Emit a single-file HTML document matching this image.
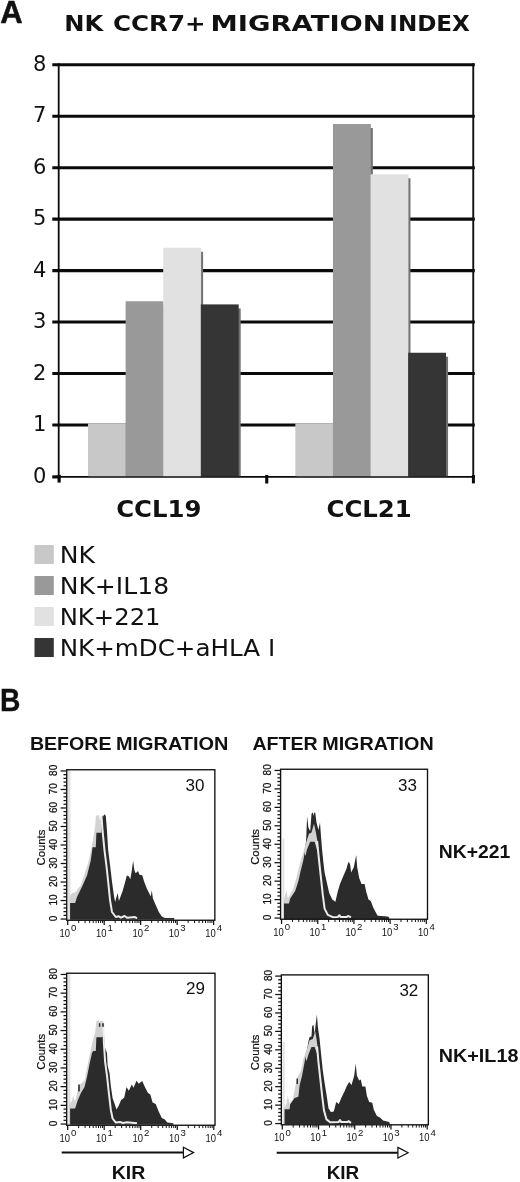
<!DOCTYPE html>
<html lang="en"><head><meta charset="utf-8"><title>NK CCR7+ migration index</title>
<style>
html,body{margin:0;padding:0;background:#fff;}
body{width:520px;height:1182px;overflow:hidden;}
svg{display:block;}
.ab{font-family:"Liberation Sans",sans-serif;font-weight:bold;}
.ar{font-family:"Liberation Sans",sans-serif;}
.vb{font-family:"DejaVu Sans","Liberation Sans",sans-serif;font-weight:bold;}
.vr{font-family:"DejaVu Sans","Liberation Sans",sans-serif;}
</style></head><body>
<svg width="520" height="1182" viewBox="0 0 520 1182">
<rect width="520" height="1182" fill="#fff"/>

<text class="ab" x="0.3" y="22.7" font-size="31" fill="#111" stroke="#111" stroke-width="0.5">A</text>
<text class="vb" x="64.2" y="30.8" font-size="22" fill="#111" textLength="39" lengthAdjust="spacingAndGlyphs">NK</text>
<text class="vb" x="113" y="30.8" font-size="22" fill="#111" textLength="92.6" lengthAdjust="spacingAndGlyphs">CCR7+</text>
<text class="vb" x="210.6" y="30.8" font-size="22" fill="#111" textLength="175.2" lengthAdjust="spacingAndGlyphs">MIGRATION</text>
<text class="vb" x="389.3" y="30.8" font-size="22" fill="#111" textLength="80.6" lengthAdjust="spacingAndGlyphs">INDEX</text>
<line x1="52.3" x2="60.5" y1="476.9" y2="476.9" stroke="#0a0a0a" stroke-width="3.2"/>
<line x1="58" x2="475" y1="476.9" y2="476.9" stroke="#0a0a0a" stroke-width="1.9"/>
<text class="vr" x="46.3" y="482.55" font-size="21" text-anchor="end" fill="#111">0</text>
<line x1="52.3" x2="474.8" y1="424.95" y2="424.95" stroke="#0a0a0a" stroke-width="3.1"/>
<text class="vr" x="46.3" y="431.10" font-size="21" text-anchor="end" fill="#111">1</text>
<line x1="52.3" x2="474.8" y1="373.50" y2="373.50" stroke="#0a0a0a" stroke-width="3.1"/>
<text class="vr" x="46.3" y="379.65" font-size="21" text-anchor="end" fill="#111">2</text>
<line x1="52.3" x2="474.8" y1="322.05" y2="322.05" stroke="#0a0a0a" stroke-width="3.1"/>
<text class="vr" x="46.3" y="328.20" font-size="21" text-anchor="end" fill="#111">3</text>
<line x1="52.3" x2="474.8" y1="270.60" y2="270.60" stroke="#0a0a0a" stroke-width="3.1"/>
<text class="vr" x="46.3" y="276.75" font-size="21" text-anchor="end" fill="#111">4</text>
<line x1="52.3" x2="474.8" y1="219.15" y2="219.15" stroke="#0a0a0a" stroke-width="3.1"/>
<text class="vr" x="46.3" y="225.30" font-size="21" text-anchor="end" fill="#111">5</text>
<line x1="52.3" x2="474.8" y1="167.70" y2="167.70" stroke="#0a0a0a" stroke-width="3.1"/>
<text class="vr" x="46.3" y="173.85" font-size="21" text-anchor="end" fill="#111">6</text>
<line x1="52.3" x2="474.8" y1="116.25" y2="116.25" stroke="#0a0a0a" stroke-width="3.1"/>
<text class="vr" x="46.3" y="122.40" font-size="21" text-anchor="end" fill="#111">7</text>
<line x1="52.3" x2="474.8" y1="64.80" y2="64.80" stroke="#0a0a0a" stroke-width="3.1"/>
<text class="vr" x="46.3" y="70.95" font-size="21" text-anchor="end" fill="#111">8</text>
<line x1="58.7" x2="58.7" y1="63.2" y2="476" stroke="#0a0a0a" stroke-width="1.8"/>
<line x1="473.25" x2="473.25" y1="63.2" y2="476" stroke="#111" stroke-width="1.9"/>
<rect x="57.5" y="474.8" width="3.2" height="7.8" fill="#0a0a0a"/>
<rect x="265.2" y="475" width="3.1" height="8.5" fill="#0a0a0a"/>
<rect x="471.9" y="475" width="3" height="8.4" fill="#0a0a0a"/>
<rect x="90.30" y="427.30" width="37.60" height="48.90" fill="#727272"/>
<rect x="127.90" y="305.25" width="37.60" height="170.95" fill="#727272"/>
<rect x="165.50" y="251.75" width="37.60" height="224.45" fill="#727272"/>
<rect x="203.10" y="308.40" width="37.60" height="167.80" fill="#727272"/>
<rect x="88.00" y="423.30" width="37.90" height="52.90" fill="#c8c8c8"/>
<rect x="125.60" y="301.25" width="37.90" height="174.95" fill="#999999"/>
<rect x="163.20" y="247.75" width="37.90" height="228.45" fill="#e1e1e1"/>
<rect x="200.80" y="304.40" width="37.90" height="171.80" fill="#353535"/>
<rect x="297.65" y="427.30" width="37.60" height="48.90" fill="#727272"/>
<rect x="335.25" y="128.00" width="37.60" height="348.20" fill="#727272"/>
<rect x="372.85" y="178.25" width="37.60" height="297.95" fill="#727272"/>
<rect x="410.45" y="356.75" width="37.60" height="119.45" fill="#727272"/>
<rect x="295.35" y="423.30" width="37.90" height="52.90" fill="#c8c8c8"/>
<rect x="332.95" y="124.00" width="37.90" height="352.20" fill="#999999"/>
<rect x="370.55" y="174.25" width="37.90" height="301.95" fill="#e1e1e1"/>
<rect x="408.15" y="352.75" width="37.90" height="123.45" fill="#353535"/>
<text class="vb" x="116.2" y="517" font-size="23.3" fill="#111" textLength="85.3" lengthAdjust="spacingAndGlyphs">CCL19</text>
<text class="vb" x="326.5" y="517" font-size="23.3" fill="#111" textLength="85.3" lengthAdjust="spacingAndGlyphs">CCL21</text>
<rect x="34.5" y="545" width="19.3" height="19" fill="#c8c8c8"/>
<text class="vr" x="59.7" y="563.3" font-size="23.3" fill="#111" textLength="35.2" lengthAdjust="spacingAndGlyphs">NK</text>
<rect x="34.5" y="576" width="19.3" height="19" fill="#999999"/>
<text class="vr" x="59.7" y="594.3" font-size="23.3" fill="#111" textLength="109.4" lengthAdjust="spacingAndGlyphs">NK+IL18</text>
<rect x="34.5" y="607" width="19.3" height="19" fill="#e1e1e1"/>
<text class="vr" x="59.7" y="625.3" font-size="23.3" fill="#111" textLength="100.9" lengthAdjust="spacingAndGlyphs">NK+221</text>
<rect x="34.5" y="638" width="19.3" height="19" fill="#353535"/>
<text class="vr" x="59.7" y="656.3" font-size="23.3" fill="#111" textLength="215.5" lengthAdjust="spacingAndGlyphs">NK+mDC+aHLA I</text>
<text class="ab" x="0.1" y="710.8" font-size="30.5" fill="#111" stroke="#111" stroke-width="0.3" textLength="20.4" lengthAdjust="spacingAndGlyphs">B</text>
<text class="ab" x="29.9" y="749.7" font-size="19" fill="#111" textLength="81.6" lengthAdjust="spacingAndGlyphs">BEFORE</text>
<text class="ab" x="115.9" y="749.7" font-size="19" fill="#111" textLength="112.6" lengthAdjust="spacingAndGlyphs">MIGRATION</text>
<text class="ab" x="252.4" y="749.7" font-size="19" fill="#111" textLength="65.3" lengthAdjust="spacingAndGlyphs">AFTER</text>
<text class="ab" x="322.2" y="749.7" font-size="19" fill="#111" textLength="111.5" lengthAdjust="spacingAndGlyphs">MIGRATION</text>
<text class="ab" x="438.8" y="857.5" font-size="17.7" fill="#111" textLength="71.6" lengthAdjust="spacingAndGlyphs">NK+221</text>
<text class="ab" x="438.8" y="1061.5" font-size="17.7" fill="#111" textLength="79.6" lengthAdjust="spacingAndGlyphs">NK+IL18</text>
<rect x="68.0" y="770.2" width="2.4" height="150.0" fill="#e2e2e2"/>
<polygon points="69.5,919.7 69.5,897.1 72.0,893.1 75.0,892.6 80.7,885.5 88.2,862.9 92.8,841.3 95.3,825.2 95.8,815.7 99.0,815.3 100.0,821.1 101.2,816.1 103.2,815.7 104.5,850.3 106.4,865.4 108.2,881.8 110.1,900.6 112.0,912.0 115.8,917.0 137.0,918.2 137.0,919.7" fill="#d2d2d2"/>
<polygon points="70.1,919.7 70.1,903.1 75.1,903.1 77.0,896.9 82.0,886.8 87.0,875.5 90.8,860.4 92.6,847.2 95.8,847.2 96.4,832.7 101.4,832.7 102.0,815.7 103.2,816.6 104.2,814.3 105.8,815.7 107.0,831.2 108.2,850.3 110.1,865.4 112.0,881.8 113.9,895.6 115.1,901.9 117.6,893.1 118.9,901.1 122.6,891.0 125.7,880.1 126.8,875.5 128.8,876.3 130.3,879.3 131.8,870.8 133.1,860.8 134.5,870.8 135.7,873.2 138.0,871.1 139.5,874.7 142.2,875.2 144.2,881.7 146.5,887.8 148.8,892.5 150.8,896.4 151.8,890.2 152.9,898.6 155.7,904.9 158.8,911.9 161.8,916.5 164.9,918.0 174.2,918.0 174.2,919.7" fill="#2b2b2b"/>
<polyline points="101.5,816.1 102.6,831.2 104.5,850.3 106.4,865.4 108.2,881.8 110.1,900.6 112.0,912.0 115.8,917.0 118.8,916.3 121.0,917.7 124.5,916.0 127.0,917.7 135.0,917.0 137.0,918.3" fill="none" stroke="#ececec" stroke-width="2" stroke-linejoin="round"/>
<rect x="66.75" y="769.75" width="148.1" height="150.5" fill="none" stroke="#111" stroke-width="1.35"/>
<line x1="60.6" x2="66.75" y1="919.05" y2="919.05" stroke="#111" stroke-width="1.25"/>
<line x1="63.5" x2="66.75" y1="915.35" y2="915.35" stroke="#111" stroke-width="1.25"/>
<line x1="63.5" x2="66.75" y1="911.64" y2="911.64" stroke="#111" stroke-width="1.25"/>
<line x1="63.5" x2="66.75" y1="907.94" y2="907.94" stroke="#111" stroke-width="1.25"/>
<line x1="63.5" x2="66.75" y1="904.24" y2="904.24" stroke="#111" stroke-width="1.25"/>
<line x1="60.6" x2="66.75" y1="900.54" y2="900.54" stroke="#111" stroke-width="1.25"/>
<line x1="63.5" x2="66.75" y1="896.83" y2="896.83" stroke="#111" stroke-width="1.25"/>
<line x1="63.5" x2="66.75" y1="893.13" y2="893.13" stroke="#111" stroke-width="1.25"/>
<line x1="63.5" x2="66.75" y1="889.43" y2="889.43" stroke="#111" stroke-width="1.25"/>
<line x1="63.5" x2="66.75" y1="885.73" y2="885.73" stroke="#111" stroke-width="1.25"/>
<line x1="60.6" x2="66.75" y1="882.02" y2="882.02" stroke="#111" stroke-width="1.25"/>
<line x1="63.5" x2="66.75" y1="878.32" y2="878.32" stroke="#111" stroke-width="1.25"/>
<line x1="63.5" x2="66.75" y1="874.62" y2="874.62" stroke="#111" stroke-width="1.25"/>
<line x1="63.5" x2="66.75" y1="870.92" y2="870.92" stroke="#111" stroke-width="1.25"/>
<line x1="63.5" x2="66.75" y1="867.22" y2="867.22" stroke="#111" stroke-width="1.25"/>
<line x1="60.6" x2="66.75" y1="863.51" y2="863.51" stroke="#111" stroke-width="1.25"/>
<line x1="63.5" x2="66.75" y1="859.81" y2="859.81" stroke="#111" stroke-width="1.25"/>
<line x1="63.5" x2="66.75" y1="856.11" y2="856.11" stroke="#111" stroke-width="1.25"/>
<line x1="63.5" x2="66.75" y1="852.40" y2="852.40" stroke="#111" stroke-width="1.25"/>
<line x1="63.5" x2="66.75" y1="848.70" y2="848.70" stroke="#111" stroke-width="1.25"/>
<line x1="60.6" x2="66.75" y1="845.00" y2="845.00" stroke="#111" stroke-width="1.25"/>
<line x1="63.5" x2="66.75" y1="841.30" y2="841.30" stroke="#111" stroke-width="1.25"/>
<line x1="63.5" x2="66.75" y1="837.60" y2="837.60" stroke="#111" stroke-width="1.25"/>
<line x1="63.5" x2="66.75" y1="833.89" y2="833.89" stroke="#111" stroke-width="1.25"/>
<line x1="63.5" x2="66.75" y1="830.19" y2="830.19" stroke="#111" stroke-width="1.25"/>
<line x1="60.6" x2="66.75" y1="826.49" y2="826.49" stroke="#111" stroke-width="1.25"/>
<line x1="63.5" x2="66.75" y1="822.78" y2="822.78" stroke="#111" stroke-width="1.25"/>
<line x1="63.5" x2="66.75" y1="819.08" y2="819.08" stroke="#111" stroke-width="1.25"/>
<line x1="63.5" x2="66.75" y1="815.38" y2="815.38" stroke="#111" stroke-width="1.25"/>
<line x1="63.5" x2="66.75" y1="811.68" y2="811.68" stroke="#111" stroke-width="1.25"/>
<line x1="60.6" x2="66.75" y1="807.98" y2="807.98" stroke="#111" stroke-width="1.25"/>
<line x1="63.5" x2="66.75" y1="804.27" y2="804.27" stroke="#111" stroke-width="1.25"/>
<line x1="63.5" x2="66.75" y1="800.57" y2="800.57" stroke="#111" stroke-width="1.25"/>
<line x1="63.5" x2="66.75" y1="796.87" y2="796.87" stroke="#111" stroke-width="1.25"/>
<line x1="63.5" x2="66.75" y1="793.17" y2="793.17" stroke="#111" stroke-width="1.25"/>
<line x1="60.6" x2="66.75" y1="789.46" y2="789.46" stroke="#111" stroke-width="1.25"/>
<line x1="63.5" x2="66.75" y1="785.76" y2="785.76" stroke="#111" stroke-width="1.25"/>
<line x1="63.5" x2="66.75" y1="782.06" y2="782.06" stroke="#111" stroke-width="1.25"/>
<line x1="63.5" x2="66.75" y1="778.36" y2="778.36" stroke="#111" stroke-width="1.25"/>
<line x1="63.5" x2="66.75" y1="774.65" y2="774.65" stroke="#111" stroke-width="1.25"/>
<line x1="60.6" x2="66.75" y1="770.95" y2="770.95" stroke="#111" stroke-width="1.25"/>
<text class="ar" font-size="10" fill="#111" stroke="#111" stroke-width="0.25" text-anchor="middle" transform="translate(57.0,918.45) rotate(-90) scale(1,1.13)">0</text>
<text class="ar" font-size="10" fill="#111" stroke="#111" stroke-width="0.25" text-anchor="middle" transform="translate(57.0,899.94) rotate(-90) scale(1,1.13)">10</text>
<text class="ar" font-size="10" fill="#111" stroke="#111" stroke-width="0.25" text-anchor="middle" transform="translate(57.0,881.42) rotate(-90) scale(1,1.13)">20</text>
<text class="ar" font-size="10" fill="#111" stroke="#111" stroke-width="0.25" text-anchor="middle" transform="translate(57.0,862.91) rotate(-90) scale(1,1.13)">30</text>
<text class="ar" font-size="10" fill="#111" stroke="#111" stroke-width="0.25" text-anchor="middle" transform="translate(57.0,844.40) rotate(-90) scale(1,1.13)">40</text>
<text class="ar" font-size="10" fill="#111" stroke="#111" stroke-width="0.25" text-anchor="middle" transform="translate(57.0,825.89) rotate(-90) scale(1,1.13)">50</text>
<text class="ar" font-size="10" fill="#111" stroke="#111" stroke-width="0.25" text-anchor="middle" transform="translate(57.0,807.38) rotate(-90) scale(1,1.13)">60</text>
<text class="ar" font-size="10" fill="#111" stroke="#111" stroke-width="0.25" text-anchor="middle" transform="translate(57.0,788.86) rotate(-90) scale(1,1.13)">70</text>
<text class="ar" font-size="10" fill="#111" stroke="#111" stroke-width="0.25" text-anchor="middle" transform="translate(57.0,770.35) rotate(-90) scale(1,1.13)">80</text>
<text class="ar" font-size="11.3" fill="#111" text-anchor="middle" stroke="#111" stroke-width="0.2" transform="translate(44.8,847.6) rotate(-90)">Counts</text>
<line x1="67.70" x2="67.70" y1="920.25" y2="925.05" stroke="#111" stroke-width="1.25"/>
<text class="ar" font-size="11" fill="#111" x="59.4" y="936.9" textLength="10.5" lengthAdjust="spacingAndGlyphs">10</text>
<text class="ar" font-size="9.6" fill="#111" x="70.9" y="931.4">0</text>
<line x1="78.68" x2="78.68" y1="920.25" y2="923.05" stroke="#111" stroke-width="1"/>
<line x1="85.10" x2="85.10" y1="920.25" y2="923.05" stroke="#111" stroke-width="1"/>
<line x1="89.66" x2="89.66" y1="920.25" y2="923.05" stroke="#111" stroke-width="1"/>
<line x1="93.19" x2="93.19" y1="920.25" y2="923.05" stroke="#111" stroke-width="1"/>
<line x1="96.08" x2="96.08" y1="920.25" y2="923.05" stroke="#111" stroke-width="1"/>
<line x1="98.52" x2="98.52" y1="920.25" y2="923.05" stroke="#111" stroke-width="1"/>
<line x1="100.64" x2="100.64" y1="920.25" y2="923.05" stroke="#111" stroke-width="1"/>
<line x1="102.51" x2="102.51" y1="920.25" y2="923.05" stroke="#111" stroke-width="1"/>
<line x1="104.18" x2="104.18" y1="920.25" y2="925.05" stroke="#111" stroke-width="1.25"/>
<text class="ar" font-size="11" fill="#111" x="95.9" y="936.9" textLength="10.5" lengthAdjust="spacingAndGlyphs">10</text>
<text class="ar" font-size="9.6" fill="#111" x="107.4" y="931.4">1</text>
<line x1="115.16" x2="115.16" y1="920.25" y2="923.05" stroke="#111" stroke-width="1"/>
<line x1="121.58" x2="121.58" y1="920.25" y2="923.05" stroke="#111" stroke-width="1"/>
<line x1="126.14" x2="126.14" y1="920.25" y2="923.05" stroke="#111" stroke-width="1"/>
<line x1="129.67" x2="129.67" y1="920.25" y2="923.05" stroke="#111" stroke-width="1"/>
<line x1="132.56" x2="132.56" y1="920.25" y2="923.05" stroke="#111" stroke-width="1"/>
<line x1="135.00" x2="135.00" y1="920.25" y2="923.05" stroke="#111" stroke-width="1"/>
<line x1="137.12" x2="137.12" y1="920.25" y2="923.05" stroke="#111" stroke-width="1"/>
<line x1="138.98" x2="138.98" y1="920.25" y2="923.05" stroke="#111" stroke-width="1"/>
<line x1="140.65" x2="140.65" y1="920.25" y2="925.05" stroke="#111" stroke-width="1.25"/>
<text class="ar" font-size="11" fill="#111" x="132.4" y="936.9" textLength="10.5" lengthAdjust="spacingAndGlyphs">10</text>
<text class="ar" font-size="9.6" fill="#111" x="143.9" y="931.4">2</text>
<line x1="151.63" x2="151.63" y1="920.25" y2="923.05" stroke="#111" stroke-width="1"/>
<line x1="158.05" x2="158.05" y1="920.25" y2="923.05" stroke="#111" stroke-width="1"/>
<line x1="162.61" x2="162.61" y1="920.25" y2="923.05" stroke="#111" stroke-width="1"/>
<line x1="166.14" x2="166.14" y1="920.25" y2="923.05" stroke="#111" stroke-width="1"/>
<line x1="169.03" x2="169.03" y1="920.25" y2="923.05" stroke="#111" stroke-width="1"/>
<line x1="171.47" x2="171.47" y1="920.25" y2="923.05" stroke="#111" stroke-width="1"/>
<line x1="173.59" x2="173.59" y1="920.25" y2="923.05" stroke="#111" stroke-width="1"/>
<line x1="175.46" x2="175.46" y1="920.25" y2="923.05" stroke="#111" stroke-width="1"/>
<line x1="177.13" x2="177.13" y1="920.25" y2="925.05" stroke="#111" stroke-width="1.25"/>
<text class="ar" font-size="11" fill="#111" x="168.8" y="936.9" textLength="10.5" lengthAdjust="spacingAndGlyphs">10</text>
<text class="ar" font-size="9.6" fill="#111" x="180.3" y="931.4">3</text>
<line x1="188.11" x2="188.11" y1="920.25" y2="923.05" stroke="#111" stroke-width="1"/>
<line x1="194.53" x2="194.53" y1="920.25" y2="923.05" stroke="#111" stroke-width="1"/>
<line x1="199.09" x2="199.09" y1="920.25" y2="923.05" stroke="#111" stroke-width="1"/>
<line x1="202.62" x2="202.62" y1="920.25" y2="923.05" stroke="#111" stroke-width="1"/>
<line x1="205.51" x2="205.51" y1="920.25" y2="923.05" stroke="#111" stroke-width="1"/>
<line x1="207.95" x2="207.95" y1="920.25" y2="923.05" stroke="#111" stroke-width="1"/>
<line x1="210.07" x2="210.07" y1="920.25" y2="923.05" stroke="#111" stroke-width="1"/>
<line x1="211.93" x2="211.93" y1="920.25" y2="923.05" stroke="#111" stroke-width="1"/>
<line x1="213.60" x2="213.60" y1="920.25" y2="925.05" stroke="#111" stroke-width="1.25"/>
<text class="ar" font-size="11" fill="#111" x="205.3" y="936.9" textLength="10.5" lengthAdjust="spacingAndGlyphs">10</text>
<text class="ar" font-size="9.6" fill="#111" x="216.8" y="931.4">4</text>
<text class="ar" font-size="17" fill="#111" x="185.6" y="790.5">30</text>
<rect x="282.5" y="838.5" width="1.8" height="80.8" fill="#e2e2e2"/>
<polygon points="283.0,918.9 283.0,903.6 286.5,889.9 287.8,898.6 292.8,889.9 296.5,877.4 300.2,862.4 304.0,849.9 306.5,841.2 309.0,833.7 311.5,832.5 314.0,823.7 315.9,832.5 317.1,841.2 319.0,859.9 320.9,877.4 322.8,894.9 324.6,908.6 327.8,914.9 332.8,917.4 351.0,917.4 351.0,918.9" fill="#d2d2d2"/>
<polygon points="284.0,918.9 284.0,903.6 289.0,903.6 290.2,898.6 295.2,891.1 298.4,881.1 300.9,869.9 303.4,859.9 305.2,849.9 306.2,838.7 307.1,816.2 308.4,827.5 310.2,831.2 311.5,813.7 313.0,812.5 313.6,816.0 314.3,812.5 315.2,812.5 316.5,822.5 318.4,830.0 320.0,822.5 320.9,835.0 322.1,849.9 323.4,862.4 324.6,872.4 326.5,881.1 329.2,892.9 332.3,899.5 335.4,901.8 337.7,891.8 340.0,884.1 343.1,876.4 346.2,869.5 348.5,861.8 350.0,863.9 351.2,872.6 353.8,867.2 356.2,854.9 357.2,867.2 359.2,878.0 361.5,884.1 364.6,884.1 366.2,891.8 368.5,899.5 370.8,901.1 373.1,907.2 375.4,911.8 377.7,915.7 387.7,916.4 389.2,917.4 389.2,918.9" fill="#2b2b2b"/>
<polygon points="304.0,849.9 306.5,841.2 309.0,833.7 311.5,832.5 314.0,823.7 315.9,832.5 317.5,841.4 318.3,851.9 317.1,849.9 314.6,841.8 310.2,841.8 306.8,849.9 305.5,855.9" fill="#d2d2d2"/>
<polyline points="317.1,841.2 319.0,859.9 320.9,877.4 322.8,894.9 324.6,908.6 327.8,914.9 332.8,917.2 338.0,916.9 339.3,915.2 340.5,916.9 347.0,916.9 348.0,915.9 351.0,917.4" fill="none" stroke="#ececec" stroke-width="2" stroke-linejoin="round"/>
<rect x="280.6" y="769.25" width="146.9" height="150.0" fill="none" stroke="#111" stroke-width="1.35"/>
<line x1="274.5" x2="280.6" y1="918.05" y2="918.05" stroke="#111" stroke-width="1.25"/>
<line x1="277.4" x2="280.6" y1="914.36" y2="914.36" stroke="#111" stroke-width="1.25"/>
<line x1="277.4" x2="280.6" y1="910.67" y2="910.67" stroke="#111" stroke-width="1.25"/>
<line x1="277.4" x2="280.6" y1="906.98" y2="906.98" stroke="#111" stroke-width="1.25"/>
<line x1="277.4" x2="280.6" y1="903.29" y2="903.29" stroke="#111" stroke-width="1.25"/>
<line x1="274.5" x2="280.6" y1="899.60" y2="899.60" stroke="#111" stroke-width="1.25"/>
<line x1="277.4" x2="280.6" y1="895.91" y2="895.91" stroke="#111" stroke-width="1.25"/>
<line x1="277.4" x2="280.6" y1="892.22" y2="892.22" stroke="#111" stroke-width="1.25"/>
<line x1="277.4" x2="280.6" y1="888.53" y2="888.53" stroke="#111" stroke-width="1.25"/>
<line x1="277.4" x2="280.6" y1="884.84" y2="884.84" stroke="#111" stroke-width="1.25"/>
<line x1="274.5" x2="280.6" y1="881.15" y2="881.15" stroke="#111" stroke-width="1.25"/>
<line x1="277.4" x2="280.6" y1="877.46" y2="877.46" stroke="#111" stroke-width="1.25"/>
<line x1="277.4" x2="280.6" y1="873.77" y2="873.77" stroke="#111" stroke-width="1.25"/>
<line x1="277.4" x2="280.6" y1="870.08" y2="870.08" stroke="#111" stroke-width="1.25"/>
<line x1="277.4" x2="280.6" y1="866.39" y2="866.39" stroke="#111" stroke-width="1.25"/>
<line x1="274.5" x2="280.6" y1="862.70" y2="862.70" stroke="#111" stroke-width="1.25"/>
<line x1="277.4" x2="280.6" y1="859.01" y2="859.01" stroke="#111" stroke-width="1.25"/>
<line x1="277.4" x2="280.6" y1="855.32" y2="855.32" stroke="#111" stroke-width="1.25"/>
<line x1="277.4" x2="280.6" y1="851.63" y2="851.63" stroke="#111" stroke-width="1.25"/>
<line x1="277.4" x2="280.6" y1="847.94" y2="847.94" stroke="#111" stroke-width="1.25"/>
<line x1="274.5" x2="280.6" y1="844.25" y2="844.25" stroke="#111" stroke-width="1.25"/>
<line x1="277.4" x2="280.6" y1="840.56" y2="840.56" stroke="#111" stroke-width="1.25"/>
<line x1="277.4" x2="280.6" y1="836.87" y2="836.87" stroke="#111" stroke-width="1.25"/>
<line x1="277.4" x2="280.6" y1="833.18" y2="833.18" stroke="#111" stroke-width="1.25"/>
<line x1="277.4" x2="280.6" y1="829.49" y2="829.49" stroke="#111" stroke-width="1.25"/>
<line x1="274.5" x2="280.6" y1="825.80" y2="825.80" stroke="#111" stroke-width="1.25"/>
<line x1="277.4" x2="280.6" y1="822.11" y2="822.11" stroke="#111" stroke-width="1.25"/>
<line x1="277.4" x2="280.6" y1="818.42" y2="818.42" stroke="#111" stroke-width="1.25"/>
<line x1="277.4" x2="280.6" y1="814.73" y2="814.73" stroke="#111" stroke-width="1.25"/>
<line x1="277.4" x2="280.6" y1="811.04" y2="811.04" stroke="#111" stroke-width="1.25"/>
<line x1="274.5" x2="280.6" y1="807.35" y2="807.35" stroke="#111" stroke-width="1.25"/>
<line x1="277.4" x2="280.6" y1="803.66" y2="803.66" stroke="#111" stroke-width="1.25"/>
<line x1="277.4" x2="280.6" y1="799.97" y2="799.97" stroke="#111" stroke-width="1.25"/>
<line x1="277.4" x2="280.6" y1="796.28" y2="796.28" stroke="#111" stroke-width="1.25"/>
<line x1="277.4" x2="280.6" y1="792.59" y2="792.59" stroke="#111" stroke-width="1.25"/>
<line x1="274.5" x2="280.6" y1="788.90" y2="788.90" stroke="#111" stroke-width="1.25"/>
<line x1="277.4" x2="280.6" y1="785.21" y2="785.21" stroke="#111" stroke-width="1.25"/>
<line x1="277.4" x2="280.6" y1="781.52" y2="781.52" stroke="#111" stroke-width="1.25"/>
<line x1="277.4" x2="280.6" y1="777.83" y2="777.83" stroke="#111" stroke-width="1.25"/>
<line x1="277.4" x2="280.6" y1="774.14" y2="774.14" stroke="#111" stroke-width="1.25"/>
<line x1="274.5" x2="280.6" y1="770.45" y2="770.45" stroke="#111" stroke-width="1.25"/>
<text class="ar" font-size="10" fill="#111" stroke="#111" stroke-width="0.25" text-anchor="middle" transform="translate(270.8,917.45) rotate(-90) scale(1,1.13)">0</text>
<text class="ar" font-size="10" fill="#111" stroke="#111" stroke-width="0.25" text-anchor="middle" transform="translate(270.8,899.00) rotate(-90) scale(1,1.13)">10</text>
<text class="ar" font-size="10" fill="#111" stroke="#111" stroke-width="0.25" text-anchor="middle" transform="translate(270.8,880.55) rotate(-90) scale(1,1.13)">20</text>
<text class="ar" font-size="10" fill="#111" stroke="#111" stroke-width="0.25" text-anchor="middle" transform="translate(270.8,862.10) rotate(-90) scale(1,1.13)">30</text>
<text class="ar" font-size="10" fill="#111" stroke="#111" stroke-width="0.25" text-anchor="middle" transform="translate(270.8,843.65) rotate(-90) scale(1,1.13)">40</text>
<text class="ar" font-size="10" fill="#111" stroke="#111" stroke-width="0.25" text-anchor="middle" transform="translate(270.8,825.20) rotate(-90) scale(1,1.13)">50</text>
<text class="ar" font-size="10" fill="#111" stroke="#111" stroke-width="0.25" text-anchor="middle" transform="translate(270.8,806.75) rotate(-90) scale(1,1.13)">60</text>
<text class="ar" font-size="10" fill="#111" stroke="#111" stroke-width="0.25" text-anchor="middle" transform="translate(270.8,788.30) rotate(-90) scale(1,1.13)">70</text>
<text class="ar" font-size="10" fill="#111" stroke="#111" stroke-width="0.25" text-anchor="middle" transform="translate(270.8,769.85) rotate(-90) scale(1,1.13)">80</text>
<text class="ar" font-size="11.3" fill="#111" text-anchor="middle" stroke="#111" stroke-width="0.2" transform="translate(258.6,846.9) rotate(-90)">Counts</text>
<line x1="281.55" x2="281.55" y1="919.25" y2="924.05" stroke="#111" stroke-width="1.25"/>
<text class="ar" font-size="11" fill="#111" x="273.2" y="935.9" textLength="10.5" lengthAdjust="spacingAndGlyphs">10</text>
<text class="ar" font-size="9.6" fill="#111" x="284.8" y="930.4">0</text>
<line x1="292.44" x2="292.44" y1="919.25" y2="922.05" stroke="#111" stroke-width="1"/>
<line x1="298.82" x2="298.82" y1="919.25" y2="922.05" stroke="#111" stroke-width="1"/>
<line x1="303.34" x2="303.34" y1="919.25" y2="922.05" stroke="#111" stroke-width="1"/>
<line x1="306.84" x2="306.84" y1="919.25" y2="922.05" stroke="#111" stroke-width="1"/>
<line x1="309.71" x2="309.71" y1="919.25" y2="922.05" stroke="#111" stroke-width="1"/>
<line x1="312.13" x2="312.13" y1="919.25" y2="922.05" stroke="#111" stroke-width="1"/>
<line x1="314.23" x2="314.23" y1="919.25" y2="922.05" stroke="#111" stroke-width="1"/>
<line x1="316.08" x2="316.08" y1="919.25" y2="922.05" stroke="#111" stroke-width="1"/>
<line x1="317.74" x2="317.74" y1="919.25" y2="924.05" stroke="#111" stroke-width="1.25"/>
<text class="ar" font-size="11" fill="#111" x="309.4" y="935.9" textLength="10.5" lengthAdjust="spacingAndGlyphs">10</text>
<text class="ar" font-size="9.6" fill="#111" x="320.9" y="930.4">1</text>
<line x1="328.63" x2="328.63" y1="919.25" y2="922.05" stroke="#111" stroke-width="1"/>
<line x1="335.00" x2="335.00" y1="919.25" y2="922.05" stroke="#111" stroke-width="1"/>
<line x1="339.52" x2="339.52" y1="919.25" y2="922.05" stroke="#111" stroke-width="1"/>
<line x1="343.03" x2="343.03" y1="919.25" y2="922.05" stroke="#111" stroke-width="1"/>
<line x1="345.90" x2="345.90" y1="919.25" y2="922.05" stroke="#111" stroke-width="1"/>
<line x1="348.32" x2="348.32" y1="919.25" y2="922.05" stroke="#111" stroke-width="1"/>
<line x1="350.42" x2="350.42" y1="919.25" y2="922.05" stroke="#111" stroke-width="1"/>
<line x1="352.27" x2="352.27" y1="919.25" y2="922.05" stroke="#111" stroke-width="1"/>
<line x1="353.93" x2="353.93" y1="919.25" y2="924.05" stroke="#111" stroke-width="1.25"/>
<text class="ar" font-size="11" fill="#111" x="345.6" y="935.9" textLength="10.5" lengthAdjust="spacingAndGlyphs">10</text>
<text class="ar" font-size="9.6" fill="#111" x="357.1" y="930.4">2</text>
<line x1="364.82" x2="364.82" y1="919.25" y2="922.05" stroke="#111" stroke-width="1"/>
<line x1="371.19" x2="371.19" y1="919.25" y2="922.05" stroke="#111" stroke-width="1"/>
<line x1="375.71" x2="375.71" y1="919.25" y2="922.05" stroke="#111" stroke-width="1"/>
<line x1="379.22" x2="379.22" y1="919.25" y2="922.05" stroke="#111" stroke-width="1"/>
<line x1="382.08" x2="382.08" y1="919.25" y2="922.05" stroke="#111" stroke-width="1"/>
<line x1="384.51" x2="384.51" y1="919.25" y2="922.05" stroke="#111" stroke-width="1"/>
<line x1="386.61" x2="386.61" y1="919.25" y2="922.05" stroke="#111" stroke-width="1"/>
<line x1="388.46" x2="388.46" y1="919.25" y2="922.05" stroke="#111" stroke-width="1"/>
<line x1="390.11" x2="390.11" y1="919.25" y2="924.05" stroke="#111" stroke-width="1.25"/>
<text class="ar" font-size="11" fill="#111" x="381.8" y="935.9" textLength="10.5" lengthAdjust="spacingAndGlyphs">10</text>
<text class="ar" font-size="9.6" fill="#111" x="393.3" y="930.4">3</text>
<line x1="401.01" x2="401.01" y1="919.25" y2="922.05" stroke="#111" stroke-width="1"/>
<line x1="407.38" x2="407.38" y1="919.25" y2="922.05" stroke="#111" stroke-width="1"/>
<line x1="411.90" x2="411.90" y1="919.25" y2="922.05" stroke="#111" stroke-width="1"/>
<line x1="415.41" x2="415.41" y1="919.25" y2="922.05" stroke="#111" stroke-width="1"/>
<line x1="418.27" x2="418.27" y1="919.25" y2="922.05" stroke="#111" stroke-width="1"/>
<line x1="420.69" x2="420.69" y1="919.25" y2="922.05" stroke="#111" stroke-width="1"/>
<line x1="422.79" x2="422.79" y1="919.25" y2="922.05" stroke="#111" stroke-width="1"/>
<line x1="424.64" x2="424.64" y1="919.25" y2="922.05" stroke="#111" stroke-width="1"/>
<line x1="426.30" x2="426.30" y1="919.25" y2="924.05" stroke="#111" stroke-width="1.25"/>
<text class="ar" font-size="11" fill="#111" x="418.0" y="935.9" textLength="10.5" lengthAdjust="spacingAndGlyphs">10</text>
<text class="ar" font-size="9.6" fill="#111" x="429.5" y="930.4">4</text>
<text class="ar" font-size="17" fill="#111" x="398.0" y="791.2">33</text>
<rect x="68.2" y="974.5" width="2.2" height="150.8" fill="#e2e2e2"/>
<polygon points="69.0,1124.8 69.0,1103.9 72.0,1100.8 73.2,1095.8 75.0,1101.8 77.0,1093.3 79.5,1084.4 84.5,1080.7 87.0,1068.1 90.1,1052.9 92.6,1041.6 95.1,1032.7 96.4,1020.7 99.0,1020.3 99.7,1022.7 100.6,1020.3 103.2,1021.4 103.9,1042.8 105.1,1061.7 107.0,1075.6 108.9,1093.3 110.8,1109.7 112.6,1118.5 115.8,1122.9 137.0,1123.5 137.0,1124.8" fill="#d2d2d2"/>
<polygon points="70.1,1124.8 70.1,1108.4 75.1,1108.4 77.6,1100.8 80.8,1093.3 84.5,1087.0 87.0,1076.9 89.5,1064.3 92.0,1052.9 93.2,1051.0 95.8,1051.0 96.4,1037.2 102.0,1037.2 103.9,1035.3 105.1,1047.9 107.0,1052.9 107.6,1065.5 109.5,1073.1 110.8,1085.7 112.6,1098.3 114.5,1103.4 116.5,1109.4 118.8,1105.5 121.1,1100.0 124.2,1097.7 126.5,1086.9 128.8,1090.8 131.8,1084.5 133.5,1087.7 136.5,1080.7 138.8,1083.8 142.2,1081.0 144.9,1086.9 148.0,1093.1 150.3,1094.6 152.6,1102.4 155.7,1104.0 158.8,1111.7 161.8,1117.9 164.9,1119.5 167.2,1122.5 173.4,1123.3 173.4,1124.8" fill="#2b2b2b"/>
<polyline points="103.2,1021.4 103.9,1042.8 105.1,1061.7 107.0,1075.6 108.9,1093.3 110.8,1109.7 112.6,1118.5 115.8,1122.6 120.0,1122.0 123.0,1123.0 127.0,1122.2 137.0,1123.3" fill="none" stroke="#ececec" stroke-width="2" stroke-linejoin="round"/>
<rect x="98.9" y="1023.2" width="1.4" height="3.6" fill="#2b2b2b"/>
<rect x="102.2" y="1023.2" width="1.6" height="3.6" fill="#2b2b2b"/>
<rect x="78.2" y="1084.5" width="1.6" height="7" fill="#2b2b2b"/>
<rect x="66.7" y="973.25" width="148.3" height="152.0" fill="none" stroke="#111" stroke-width="1.35"/>
<line x1="60.6" x2="66.7" y1="1124.05" y2="1124.05" stroke="#111" stroke-width="1.25"/>
<line x1="63.5" x2="66.7" y1="1120.31" y2="1120.31" stroke="#111" stroke-width="1.25"/>
<line x1="63.5" x2="66.7" y1="1116.57" y2="1116.57" stroke="#111" stroke-width="1.25"/>
<line x1="63.5" x2="66.7" y1="1112.83" y2="1112.83" stroke="#111" stroke-width="1.25"/>
<line x1="63.5" x2="66.7" y1="1109.09" y2="1109.09" stroke="#111" stroke-width="1.25"/>
<line x1="60.6" x2="66.7" y1="1105.35" y2="1105.35" stroke="#111" stroke-width="1.25"/>
<line x1="63.5" x2="66.7" y1="1101.61" y2="1101.61" stroke="#111" stroke-width="1.25"/>
<line x1="63.5" x2="66.7" y1="1097.87" y2="1097.87" stroke="#111" stroke-width="1.25"/>
<line x1="63.5" x2="66.7" y1="1094.13" y2="1094.13" stroke="#111" stroke-width="1.25"/>
<line x1="63.5" x2="66.7" y1="1090.39" y2="1090.39" stroke="#111" stroke-width="1.25"/>
<line x1="60.6" x2="66.7" y1="1086.65" y2="1086.65" stroke="#111" stroke-width="1.25"/>
<line x1="63.5" x2="66.7" y1="1082.91" y2="1082.91" stroke="#111" stroke-width="1.25"/>
<line x1="63.5" x2="66.7" y1="1079.17" y2="1079.17" stroke="#111" stroke-width="1.25"/>
<line x1="63.5" x2="66.7" y1="1075.43" y2="1075.43" stroke="#111" stroke-width="1.25"/>
<line x1="63.5" x2="66.7" y1="1071.69" y2="1071.69" stroke="#111" stroke-width="1.25"/>
<line x1="60.6" x2="66.7" y1="1067.95" y2="1067.95" stroke="#111" stroke-width="1.25"/>
<line x1="63.5" x2="66.7" y1="1064.21" y2="1064.21" stroke="#111" stroke-width="1.25"/>
<line x1="63.5" x2="66.7" y1="1060.47" y2="1060.47" stroke="#111" stroke-width="1.25"/>
<line x1="63.5" x2="66.7" y1="1056.73" y2="1056.73" stroke="#111" stroke-width="1.25"/>
<line x1="63.5" x2="66.7" y1="1052.99" y2="1052.99" stroke="#111" stroke-width="1.25"/>
<line x1="60.6" x2="66.7" y1="1049.25" y2="1049.25" stroke="#111" stroke-width="1.25"/>
<line x1="63.5" x2="66.7" y1="1045.51" y2="1045.51" stroke="#111" stroke-width="1.25"/>
<line x1="63.5" x2="66.7" y1="1041.77" y2="1041.77" stroke="#111" stroke-width="1.25"/>
<line x1="63.5" x2="66.7" y1="1038.03" y2="1038.03" stroke="#111" stroke-width="1.25"/>
<line x1="63.5" x2="66.7" y1="1034.29" y2="1034.29" stroke="#111" stroke-width="1.25"/>
<line x1="60.6" x2="66.7" y1="1030.55" y2="1030.55" stroke="#111" stroke-width="1.25"/>
<line x1="63.5" x2="66.7" y1="1026.81" y2="1026.81" stroke="#111" stroke-width="1.25"/>
<line x1="63.5" x2="66.7" y1="1023.07" y2="1023.07" stroke="#111" stroke-width="1.25"/>
<line x1="63.5" x2="66.7" y1="1019.33" y2="1019.33" stroke="#111" stroke-width="1.25"/>
<line x1="63.5" x2="66.7" y1="1015.59" y2="1015.59" stroke="#111" stroke-width="1.25"/>
<line x1="60.6" x2="66.7" y1="1011.85" y2="1011.85" stroke="#111" stroke-width="1.25"/>
<line x1="63.5" x2="66.7" y1="1008.11" y2="1008.11" stroke="#111" stroke-width="1.25"/>
<line x1="63.5" x2="66.7" y1="1004.37" y2="1004.37" stroke="#111" stroke-width="1.25"/>
<line x1="63.5" x2="66.7" y1="1000.63" y2="1000.63" stroke="#111" stroke-width="1.25"/>
<line x1="63.5" x2="66.7" y1="996.89" y2="996.89" stroke="#111" stroke-width="1.25"/>
<line x1="60.6" x2="66.7" y1="993.15" y2="993.15" stroke="#111" stroke-width="1.25"/>
<line x1="63.5" x2="66.7" y1="989.41" y2="989.41" stroke="#111" stroke-width="1.25"/>
<line x1="63.5" x2="66.7" y1="985.67" y2="985.67" stroke="#111" stroke-width="1.25"/>
<line x1="63.5" x2="66.7" y1="981.93" y2="981.93" stroke="#111" stroke-width="1.25"/>
<line x1="63.5" x2="66.7" y1="978.19" y2="978.19" stroke="#111" stroke-width="1.25"/>
<line x1="60.6" x2="66.7" y1="974.45" y2="974.45" stroke="#111" stroke-width="1.25"/>
<text class="ar" font-size="10" fill="#111" stroke="#111" stroke-width="0.25" text-anchor="middle" transform="translate(56.9,1123.45) rotate(-90) scale(1,1.13)">0</text>
<text class="ar" font-size="10" fill="#111" stroke="#111" stroke-width="0.25" text-anchor="middle" transform="translate(56.9,1104.75) rotate(-90) scale(1,1.13)">10</text>
<text class="ar" font-size="10" fill="#111" stroke="#111" stroke-width="0.25" text-anchor="middle" transform="translate(56.9,1086.05) rotate(-90) scale(1,1.13)">20</text>
<text class="ar" font-size="10" fill="#111" stroke="#111" stroke-width="0.25" text-anchor="middle" transform="translate(56.9,1067.35) rotate(-90) scale(1,1.13)">30</text>
<text class="ar" font-size="10" fill="#111" stroke="#111" stroke-width="0.25" text-anchor="middle" transform="translate(56.9,1048.65) rotate(-90) scale(1,1.13)">40</text>
<text class="ar" font-size="10" fill="#111" stroke="#111" stroke-width="0.25" text-anchor="middle" transform="translate(56.9,1029.95) rotate(-90) scale(1,1.13)">50</text>
<text class="ar" font-size="10" fill="#111" stroke="#111" stroke-width="0.25" text-anchor="middle" transform="translate(56.9,1011.25) rotate(-90) scale(1,1.13)">60</text>
<text class="ar" font-size="10" fill="#111" stroke="#111" stroke-width="0.25" text-anchor="middle" transform="translate(56.9,992.55) rotate(-90) scale(1,1.13)">70</text>
<text class="ar" font-size="10" fill="#111" stroke="#111" stroke-width="0.25" text-anchor="middle" transform="translate(56.9,973.85) rotate(-90) scale(1,1.13)">80</text>
<text class="ar" font-size="11.3" fill="#111" text-anchor="middle" stroke="#111" stroke-width="0.2" transform="translate(44.7,1051.8) rotate(-90)">Counts</text>
<line x1="67.65" x2="67.65" y1="1125.25" y2="1130.05" stroke="#111" stroke-width="1.25"/>
<text class="ar" font-size="11" fill="#111" x="59.4" y="1141.8" textLength="10.5" lengthAdjust="spacingAndGlyphs">10</text>
<text class="ar" font-size="9.6" fill="#111" x="70.9" y="1136.3">0</text>
<line x1="78.65" x2="78.65" y1="1125.25" y2="1128.05" stroke="#111" stroke-width="1"/>
<line x1="85.08" x2="85.08" y1="1125.25" y2="1128.05" stroke="#111" stroke-width="1"/>
<line x1="89.65" x2="89.65" y1="1125.25" y2="1128.05" stroke="#111" stroke-width="1"/>
<line x1="93.19" x2="93.19" y1="1125.25" y2="1128.05" stroke="#111" stroke-width="1"/>
<line x1="96.08" x2="96.08" y1="1125.25" y2="1128.05" stroke="#111" stroke-width="1"/>
<line x1="98.53" x2="98.53" y1="1125.25" y2="1128.05" stroke="#111" stroke-width="1"/>
<line x1="100.65" x2="100.65" y1="1125.25" y2="1128.05" stroke="#111" stroke-width="1"/>
<line x1="102.52" x2="102.52" y1="1125.25" y2="1128.05" stroke="#111" stroke-width="1"/>
<line x1="104.19" x2="104.19" y1="1125.25" y2="1130.05" stroke="#111" stroke-width="1.25"/>
<text class="ar" font-size="11" fill="#111" x="95.9" y="1141.8" textLength="10.5" lengthAdjust="spacingAndGlyphs">10</text>
<text class="ar" font-size="9.6" fill="#111" x="107.4" y="1136.3">1</text>
<line x1="115.19" x2="115.19" y1="1125.25" y2="1128.05" stroke="#111" stroke-width="1"/>
<line x1="121.62" x2="121.62" y1="1125.25" y2="1128.05" stroke="#111" stroke-width="1"/>
<line x1="126.19" x2="126.19" y1="1125.25" y2="1128.05" stroke="#111" stroke-width="1"/>
<line x1="129.73" x2="129.73" y1="1125.25" y2="1128.05" stroke="#111" stroke-width="1"/>
<line x1="132.62" x2="132.62" y1="1125.25" y2="1128.05" stroke="#111" stroke-width="1"/>
<line x1="135.07" x2="135.07" y1="1125.25" y2="1128.05" stroke="#111" stroke-width="1"/>
<line x1="137.18" x2="137.18" y1="1125.25" y2="1128.05" stroke="#111" stroke-width="1"/>
<line x1="139.05" x2="139.05" y1="1125.25" y2="1128.05" stroke="#111" stroke-width="1"/>
<line x1="140.73" x2="140.73" y1="1125.25" y2="1130.05" stroke="#111" stroke-width="1.25"/>
<text class="ar" font-size="11" fill="#111" x="132.4" y="1141.8" textLength="10.5" lengthAdjust="spacingAndGlyphs">10</text>
<text class="ar" font-size="9.6" fill="#111" x="143.9" y="1136.3">2</text>
<line x1="151.72" x2="151.72" y1="1125.25" y2="1128.05" stroke="#111" stroke-width="1"/>
<line x1="158.16" x2="158.16" y1="1125.25" y2="1128.05" stroke="#111" stroke-width="1"/>
<line x1="162.72" x2="162.72" y1="1125.25" y2="1128.05" stroke="#111" stroke-width="1"/>
<line x1="166.26" x2="166.26" y1="1125.25" y2="1128.05" stroke="#111" stroke-width="1"/>
<line x1="169.16" x2="169.16" y1="1125.25" y2="1128.05" stroke="#111" stroke-width="1"/>
<line x1="171.60" x2="171.60" y1="1125.25" y2="1128.05" stroke="#111" stroke-width="1"/>
<line x1="173.72" x2="173.72" y1="1125.25" y2="1128.05" stroke="#111" stroke-width="1"/>
<line x1="175.59" x2="175.59" y1="1125.25" y2="1128.05" stroke="#111" stroke-width="1"/>
<line x1="177.26" x2="177.26" y1="1125.25" y2="1130.05" stroke="#111" stroke-width="1.25"/>
<text class="ar" font-size="11" fill="#111" x="169.0" y="1141.8" textLength="10.5" lengthAdjust="spacingAndGlyphs">10</text>
<text class="ar" font-size="9.6" fill="#111" x="180.5" y="1136.3">3</text>
<line x1="188.26" x2="188.26" y1="1125.25" y2="1128.05" stroke="#111" stroke-width="1"/>
<line x1="194.70" x2="194.70" y1="1125.25" y2="1128.05" stroke="#111" stroke-width="1"/>
<line x1="199.26" x2="199.26" y1="1125.25" y2="1128.05" stroke="#111" stroke-width="1"/>
<line x1="202.80" x2="202.80" y1="1125.25" y2="1128.05" stroke="#111" stroke-width="1"/>
<line x1="205.69" x2="205.69" y1="1125.25" y2="1128.05" stroke="#111" stroke-width="1"/>
<line x1="208.14" x2="208.14" y1="1125.25" y2="1128.05" stroke="#111" stroke-width="1"/>
<line x1="210.26" x2="210.26" y1="1125.25" y2="1128.05" stroke="#111" stroke-width="1"/>
<line x1="212.13" x2="212.13" y1="1125.25" y2="1128.05" stroke="#111" stroke-width="1"/>
<line x1="213.80" x2="213.80" y1="1125.25" y2="1130.05" stroke="#111" stroke-width="1.25"/>
<text class="ar" font-size="11" fill="#111" x="205.5" y="1141.8" textLength="10.5" lengthAdjust="spacingAndGlyphs">10</text>
<text class="ar" font-size="9.6" fill="#111" x="217.0" y="1136.3">4</text>
<text class="ar" font-size="17" fill="#111" x="186.1" y="993.9">29</text>
<rect x="282.7" y="1042" width="1.9" height="82.8" fill="#e2e2e2"/>
<polygon points="283.5,1124.3 283.5,1109.3 286.5,1103.5 287.8,1095.5 289.6,1103.5 292.8,1099.3 295.2,1086.7 297.1,1077.9 300.9,1070.4 303.4,1059.0 305.9,1051.5 307.8,1046.5 309.6,1040.2 312.8,1038.9 315.2,1031.4 316.5,1038.9 317.1,1046.5 318.4,1061.6 320.2,1077.9 322.1,1095.5 324.0,1110.6 326.5,1119.4 330.2,1122.5 351.0,1122.9 351.0,1124.3" fill="#d2d2d2"/>
<polygon points="284.6,1124.3 284.6,1109.3 289.6,1109.3 290.2,1104.3 294.6,1098.0 298.4,1096.7 299.6,1085.4 302.1,1075.4 304.0,1065.3 305.9,1055.3 307.5,1047.2 308.4,1041.4 309.6,1037.1 311.5,1036.5 312.1,1026.4 313.4,1024.5 314.6,1033.9 315.9,1022.6 316.9,1014.5 317.8,1026.4 319.6,1038.9 321.2,1055.3 322.8,1070.4 324.6,1082.9 326.5,1094.5 328.5,1108.3 330.8,1112.1 333.8,1111.4 336.2,1102.0 338.8,1104.0 341.5,1097.4 344.6,1091.3 346.9,1085.8 349.2,1081.9 351.5,1085.0 354.2,1075.8 355.7,1063.4 356.9,1075.8 359.2,1080.4 360.8,1079.6 362.3,1086.6 365.4,1086.6 366.9,1095.9 369.2,1102.0 372.3,1102.8 373.8,1109.8 376.9,1116.0 380.0,1117.5 383.1,1120.6 389.2,1122.1 390.0,1124.3" fill="#2b2b2b"/>
<polygon points="305.0,1055.3 307.8,1046.5 309.6,1040.2 312.8,1038.9 315.2,1031.4 316.5,1038.9 317.6,1046.7 318.6,1058.3 317.3,1054.3 314.6,1047.1 311.5,1047.1 308.5,1054.3 306.5,1061.3" fill="#d2d2d2"/>
<polyline points="317.1,1046.5 318.4,1061.6 320.2,1077.9 322.1,1095.5 324.0,1110.6 326.5,1119.4 330.2,1122.3 338.5,1122.1 340.0,1120.1 341.3,1122.1 347.5,1122.1 348.5,1121.1 351.0,1122.9" fill="none" stroke="#ececec" stroke-width="2" stroke-linejoin="round"/>
<rect x="296.5" y="1078.5" width="1.5" height="5.5" fill="#2b2b2b"/>
<rect x="281.35" y="974.9" width="147.0" height="149.9" fill="none" stroke="#111" stroke-width="1.35"/>
<line x1="275.2" x2="281.35" y1="1123.55" y2="1123.55" stroke="#111" stroke-width="1.25"/>
<line x1="278.2" x2="281.35" y1="1119.86" y2="1119.86" stroke="#111" stroke-width="1.25"/>
<line x1="278.2" x2="281.35" y1="1116.18" y2="1116.18" stroke="#111" stroke-width="1.25"/>
<line x1="278.2" x2="281.35" y1="1112.49" y2="1112.49" stroke="#111" stroke-width="1.25"/>
<line x1="278.2" x2="281.35" y1="1108.81" y2="1108.81" stroke="#111" stroke-width="1.25"/>
<line x1="275.2" x2="281.35" y1="1105.12" y2="1105.12" stroke="#111" stroke-width="1.25"/>
<line x1="278.2" x2="281.35" y1="1101.43" y2="1101.43" stroke="#111" stroke-width="1.25"/>
<line x1="278.2" x2="281.35" y1="1097.75" y2="1097.75" stroke="#111" stroke-width="1.25"/>
<line x1="278.2" x2="281.35" y1="1094.06" y2="1094.06" stroke="#111" stroke-width="1.25"/>
<line x1="278.2" x2="281.35" y1="1090.37" y2="1090.37" stroke="#111" stroke-width="1.25"/>
<line x1="275.2" x2="281.35" y1="1086.69" y2="1086.69" stroke="#111" stroke-width="1.25"/>
<line x1="278.2" x2="281.35" y1="1083.00" y2="1083.00" stroke="#111" stroke-width="1.25"/>
<line x1="278.2" x2="281.35" y1="1079.32" y2="1079.32" stroke="#111" stroke-width="1.25"/>
<line x1="278.2" x2="281.35" y1="1075.63" y2="1075.63" stroke="#111" stroke-width="1.25"/>
<line x1="278.2" x2="281.35" y1="1071.94" y2="1071.94" stroke="#111" stroke-width="1.25"/>
<line x1="275.2" x2="281.35" y1="1068.26" y2="1068.26" stroke="#111" stroke-width="1.25"/>
<line x1="278.2" x2="281.35" y1="1064.57" y2="1064.57" stroke="#111" stroke-width="1.25"/>
<line x1="278.2" x2="281.35" y1="1060.88" y2="1060.88" stroke="#111" stroke-width="1.25"/>
<line x1="278.2" x2="281.35" y1="1057.20" y2="1057.20" stroke="#111" stroke-width="1.25"/>
<line x1="278.2" x2="281.35" y1="1053.51" y2="1053.51" stroke="#111" stroke-width="1.25"/>
<line x1="275.2" x2="281.35" y1="1049.83" y2="1049.83" stroke="#111" stroke-width="1.25"/>
<line x1="278.2" x2="281.35" y1="1046.14" y2="1046.14" stroke="#111" stroke-width="1.25"/>
<line x1="278.2" x2="281.35" y1="1042.45" y2="1042.45" stroke="#111" stroke-width="1.25"/>
<line x1="278.2" x2="281.35" y1="1038.77" y2="1038.77" stroke="#111" stroke-width="1.25"/>
<line x1="278.2" x2="281.35" y1="1035.08" y2="1035.08" stroke="#111" stroke-width="1.25"/>
<line x1="275.2" x2="281.35" y1="1031.39" y2="1031.39" stroke="#111" stroke-width="1.25"/>
<line x1="278.2" x2="281.35" y1="1027.71" y2="1027.71" stroke="#111" stroke-width="1.25"/>
<line x1="278.2" x2="281.35" y1="1024.02" y2="1024.02" stroke="#111" stroke-width="1.25"/>
<line x1="278.2" x2="281.35" y1="1020.34" y2="1020.34" stroke="#111" stroke-width="1.25"/>
<line x1="278.2" x2="281.35" y1="1016.65" y2="1016.65" stroke="#111" stroke-width="1.25"/>
<line x1="275.2" x2="281.35" y1="1012.96" y2="1012.96" stroke="#111" stroke-width="1.25"/>
<line x1="278.2" x2="281.35" y1="1009.28" y2="1009.28" stroke="#111" stroke-width="1.25"/>
<line x1="278.2" x2="281.35" y1="1005.59" y2="1005.59" stroke="#111" stroke-width="1.25"/>
<line x1="278.2" x2="281.35" y1="1001.90" y2="1001.90" stroke="#111" stroke-width="1.25"/>
<line x1="278.2" x2="281.35" y1="998.22" y2="998.22" stroke="#111" stroke-width="1.25"/>
<line x1="275.2" x2="281.35" y1="994.53" y2="994.53" stroke="#111" stroke-width="1.25"/>
<line x1="278.2" x2="281.35" y1="990.85" y2="990.85" stroke="#111" stroke-width="1.25"/>
<line x1="278.2" x2="281.35" y1="987.16" y2="987.16" stroke="#111" stroke-width="1.25"/>
<line x1="278.2" x2="281.35" y1="983.47" y2="983.47" stroke="#111" stroke-width="1.25"/>
<line x1="278.2" x2="281.35" y1="979.79" y2="979.79" stroke="#111" stroke-width="1.25"/>
<line x1="275.2" x2="281.35" y1="976.10" y2="976.10" stroke="#111" stroke-width="1.25"/>
<text class="ar" font-size="10" fill="#111" stroke="#111" stroke-width="0.25" text-anchor="middle" transform="translate(271.6,1122.95) rotate(-90) scale(1,1.13)">0</text>
<text class="ar" font-size="10" fill="#111" stroke="#111" stroke-width="0.25" text-anchor="middle" transform="translate(271.6,1104.52) rotate(-90) scale(1,1.13)">10</text>
<text class="ar" font-size="10" fill="#111" stroke="#111" stroke-width="0.25" text-anchor="middle" transform="translate(271.6,1086.09) rotate(-90) scale(1,1.13)">20</text>
<text class="ar" font-size="10" fill="#111" stroke="#111" stroke-width="0.25" text-anchor="middle" transform="translate(271.6,1067.66) rotate(-90) scale(1,1.13)">30</text>
<text class="ar" font-size="10" fill="#111" stroke="#111" stroke-width="0.25" text-anchor="middle" transform="translate(271.6,1049.23) rotate(-90) scale(1,1.13)">40</text>
<text class="ar" font-size="10" fill="#111" stroke="#111" stroke-width="0.25" text-anchor="middle" transform="translate(271.6,1030.79) rotate(-90) scale(1,1.13)">50</text>
<text class="ar" font-size="10" fill="#111" stroke="#111" stroke-width="0.25" text-anchor="middle" transform="translate(271.6,1012.36) rotate(-90) scale(1,1.13)">60</text>
<text class="ar" font-size="10" fill="#111" stroke="#111" stroke-width="0.25" text-anchor="middle" transform="translate(271.6,993.93) rotate(-90) scale(1,1.13)">70</text>
<text class="ar" font-size="10" fill="#111" stroke="#111" stroke-width="0.25" text-anchor="middle" transform="translate(271.6,975.50) rotate(-90) scale(1,1.13)">80</text>
<text class="ar" font-size="11.3" fill="#111" text-anchor="middle" stroke="#111" stroke-width="0.2" transform="translate(259.4,1052.4) rotate(-90)">Counts</text>
<line x1="282.30" x2="282.30" y1="1124.75" y2="1129.55" stroke="#111" stroke-width="1.25"/>
<text class="ar" font-size="11" fill="#111" x="274.0" y="1141.3" textLength="10.5" lengthAdjust="spacingAndGlyphs">10</text>
<text class="ar" font-size="9.6" fill="#111" x="285.5" y="1135.8">0</text>
<line x1="293.20" x2="293.20" y1="1124.75" y2="1127.55" stroke="#111" stroke-width="1"/>
<line x1="299.58" x2="299.58" y1="1124.75" y2="1127.55" stroke="#111" stroke-width="1"/>
<line x1="304.11" x2="304.11" y1="1124.75" y2="1127.55" stroke="#111" stroke-width="1"/>
<line x1="307.62" x2="307.62" y1="1124.75" y2="1127.55" stroke="#111" stroke-width="1"/>
<line x1="310.49" x2="310.49" y1="1124.75" y2="1127.55" stroke="#111" stroke-width="1"/>
<line x1="312.91" x2="312.91" y1="1124.75" y2="1127.55" stroke="#111" stroke-width="1"/>
<line x1="315.01" x2="315.01" y1="1124.75" y2="1127.55" stroke="#111" stroke-width="1"/>
<line x1="316.87" x2="316.87" y1="1124.75" y2="1127.55" stroke="#111" stroke-width="1"/>
<line x1="318.52" x2="318.52" y1="1124.75" y2="1129.55" stroke="#111" stroke-width="1.25"/>
<text class="ar" font-size="11" fill="#111" x="310.2" y="1141.3" textLength="10.5" lengthAdjust="spacingAndGlyphs">10</text>
<text class="ar" font-size="9.6" fill="#111" x="321.7" y="1135.8">1</text>
<line x1="329.43" x2="329.43" y1="1124.75" y2="1127.55" stroke="#111" stroke-width="1"/>
<line x1="335.81" x2="335.81" y1="1124.75" y2="1127.55" stroke="#111" stroke-width="1"/>
<line x1="340.33" x2="340.33" y1="1124.75" y2="1127.55" stroke="#111" stroke-width="1"/>
<line x1="343.85" x2="343.85" y1="1124.75" y2="1127.55" stroke="#111" stroke-width="1"/>
<line x1="346.71" x2="346.71" y1="1124.75" y2="1127.55" stroke="#111" stroke-width="1"/>
<line x1="349.14" x2="349.14" y1="1124.75" y2="1127.55" stroke="#111" stroke-width="1"/>
<line x1="351.24" x2="351.24" y1="1124.75" y2="1127.55" stroke="#111" stroke-width="1"/>
<line x1="353.09" x2="353.09" y1="1124.75" y2="1127.55" stroke="#111" stroke-width="1"/>
<line x1="354.75" x2="354.75" y1="1124.75" y2="1129.55" stroke="#111" stroke-width="1.25"/>
<text class="ar" font-size="11" fill="#111" x="346.4" y="1141.3" textLength="10.5" lengthAdjust="spacingAndGlyphs">10</text>
<text class="ar" font-size="9.6" fill="#111" x="357.9" y="1135.8">2</text>
<line x1="365.65" x2="365.65" y1="1124.75" y2="1127.55" stroke="#111" stroke-width="1"/>
<line x1="372.03" x2="372.03" y1="1124.75" y2="1127.55" stroke="#111" stroke-width="1"/>
<line x1="376.56" x2="376.56" y1="1124.75" y2="1127.55" stroke="#111" stroke-width="1"/>
<line x1="380.07" x2="380.07" y1="1124.75" y2="1127.55" stroke="#111" stroke-width="1"/>
<line x1="382.94" x2="382.94" y1="1124.75" y2="1127.55" stroke="#111" stroke-width="1"/>
<line x1="385.36" x2="385.36" y1="1124.75" y2="1127.55" stroke="#111" stroke-width="1"/>
<line x1="387.46" x2="387.46" y1="1124.75" y2="1127.55" stroke="#111" stroke-width="1"/>
<line x1="389.32" x2="389.32" y1="1124.75" y2="1127.55" stroke="#111" stroke-width="1"/>
<line x1="390.98" x2="390.98" y1="1124.75" y2="1129.55" stroke="#111" stroke-width="1.25"/>
<text class="ar" font-size="11" fill="#111" x="382.7" y="1141.3" textLength="10.5" lengthAdjust="spacingAndGlyphs">10</text>
<text class="ar" font-size="9.6" fill="#111" x="394.2" y="1135.8">3</text>
<line x1="401.88" x2="401.88" y1="1124.75" y2="1127.55" stroke="#111" stroke-width="1"/>
<line x1="408.26" x2="408.26" y1="1124.75" y2="1127.55" stroke="#111" stroke-width="1"/>
<line x1="412.78" x2="412.78" y1="1124.75" y2="1127.55" stroke="#111" stroke-width="1"/>
<line x1="416.30" x2="416.30" y1="1124.75" y2="1127.55" stroke="#111" stroke-width="1"/>
<line x1="419.16" x2="419.16" y1="1124.75" y2="1127.55" stroke="#111" stroke-width="1"/>
<line x1="421.59" x2="421.59" y1="1124.75" y2="1127.55" stroke="#111" stroke-width="1"/>
<line x1="423.69" x2="423.69" y1="1124.75" y2="1127.55" stroke="#111" stroke-width="1"/>
<line x1="425.54" x2="425.54" y1="1124.75" y2="1127.55" stroke="#111" stroke-width="1"/>
<line x1="427.20" x2="427.20" y1="1124.75" y2="1129.55" stroke="#111" stroke-width="1.25"/>
<text class="ar" font-size="11" fill="#111" x="418.9" y="1141.3" textLength="10.5" lengthAdjust="spacingAndGlyphs">10</text>
<text class="ar" font-size="9.6" fill="#111" x="430.4" y="1135.8">4</text>
<text class="ar" font-size="17" fill="#111" x="399.4" y="996">32</text>
<line x1="61.7" x2="183.7" y1="1152.6" y2="1152.6" stroke="#111" stroke-width="2"/>
<polygon points="183.39999999999998,1147.3 193.6,1152.6 183.39999999999998,1157.8999999999999" fill="#fff" stroke="#111" stroke-width="1.2" stroke-linejoin="miter"/>
<line x1="276.7" x2="398.2" y1="1152.7" y2="1152.7" stroke="#111" stroke-width="2"/>
<polygon points="397.9,1147.4 408.09999999999997,1152.7 397.9,1158.0" fill="#fff" stroke="#111" stroke-width="1.2" stroke-linejoin="miter"/>
<text class="ab" x="111.7" y="1179" font-size="18.6" fill="#111" textLength="33.6" lengthAdjust="spacingAndGlyphs">KIR</text>
<text class="ab" x="326.7" y="1179" font-size="18.6" fill="#111" textLength="32.6" lengthAdjust="spacingAndGlyphs">KIR</text>
</svg></body></html>
